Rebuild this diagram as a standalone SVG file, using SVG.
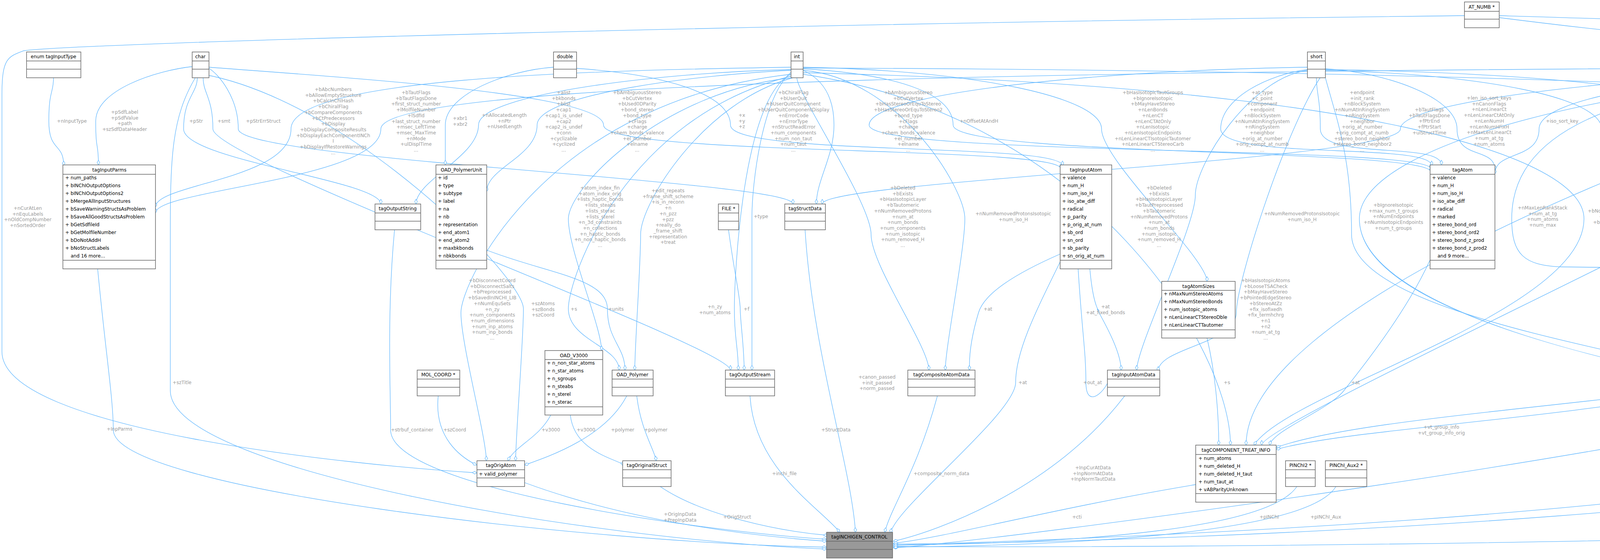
<svg xmlns="http://www.w3.org/2000/svg" width="6429" height="1433" viewBox="0 0 6429 1433">
<style>
.e{fill:none;stroke:#63b8ff;stroke-width:1.3;marker-end:url(#d)}
.l{font-family:"DejaVu Sans",sans-serif;font-size:12px;fill:#9a9a9a;text-anchor:middle}
.n rect{fill:#fff;stroke:#666;stroke-width:1.5}
.n path{fill:none;stroke:#666;stroke-width:1.5}
.h{font-family:"DejaVu Sans",sans-serif;font-size:12px;text-anchor:middle;fill:#000}
.a{font-family:"DejaVu Sans",sans-serif;font-size:12px;fill:#000}
</style>
<defs>
<marker id="d" viewBox="-1 -5 15 10" refX="13" refY="0" markerWidth="15" markerHeight="10" orient="auto" markerUnits="userSpaceOnUse"><path d="M1,0 L7,-3.5 L13,0 L7,3.5 Z" fill="#fff" stroke="#63b8ff" stroke-width="1.2"/></marker>
</defs>
<rect width="6429" height="1433" fill="#fff"/>
<g id="edges">
<path class="e" d="M137,199 C137,239 125,230 125,310 S163,364 163,424"/>
<path class="e" d="M495,170 C400,180 245,230 245,310 S252,362 252,422"/>
<path class="e" d="M505,199 C505,239 470,250 470,330 S975,462 975,522"/>
<path class="e" d="M520,199 C520,239 545,250 545,330 S1870,887 1870,947"/>
<path class="e" d="M535,175 C560,190 610,250 610,330 S2030,462 2030,522"/>
<path class="e" d="M2025,172 C1500,180 745,200 745,330 S398,470 398,530"/>
<path class="e" d="M4819,172 C3000,180 975,200 975,330 S398,485 398,545"/>
<path class="e" d="M1417,172 C1300,180 1140,240 1140,320 S1140,362 1140,422"/>
<path class="e" d="M2025,178 C1700,185 1225,240 1225,320 S1065,462 1065,522"/>
<path class="e" d="M2025,180 C1800,190 1375,240 1375,320 S1246,430 1246,490"/>
<path class="e" d="M535,172 C900,200 1545,240 1545,320 S2716,372 2716,432"/>
<path class="e" d="M1476,175 C1700,190 1870,240 1870,320 S2720,364 2720,424"/>
<path class="e" d="M2056,180 C2100,200 2135,240 2135,320 S2090,462 2090,522"/>
<path class="e" d="M3347,172 C2800,180 2225,240 2225,320 S3663,372 3663,432"/>
<path class="e" d="M2056,176 C2300,190 2440,240 2440,320 S3663,380 3663,440"/>
<path class="e" d="M2056,172 C2500,180 2820,250 2820,330 S3090,660 3090,720"/>
<path class="e" d="M3347,178 C3250,190 3125,250 3125,330 S3665,364 3665,424"/>
<path class="e" d="M3370,199 C3370,239 3380,250 3380,330 S3690,362 3690,422"/>
<path class="e" d="M4819,176 C4300,185 3585,250 3585,330 S2105,462 2105,522"/>
<path class="e" d="M3393,176 C3550,185 3730,250 3730,330 S3827,375 3827,435"/>
<path class="e" d="M4819,178 C4300,190 3940,250 3940,330 S3827,385 3827,445"/>
<path class="e" d="M3393,180 C3800,190 4100,250 4100,330 S4390,887 4390,947"/>
<path class="e" d="M4819,180 C4500,190 4360,250 4360,330 S4395,462 4395,522"/>
<path class="e" d="M3393,178 C4000,185 4530,250 4530,330 S4580,462 4580,522"/>
<path class="e" d="M4830,199 C4830,239 4730,250 4730,330 S3230,1079 3230,1139"/>
<path class="e" d="M4850,199 C4850,239 4870,250 4870,330 S5330,462 5330,522"/>
<path class="e" d="M4862,178 C4950,200 4990,250 4990,330 S5090,462 5090,522"/>
<path class="e" d="M4862,180 C5000,190 5120,250 5120,330 S4680,462 4680,522"/>
<path class="e" d="M2056,174 C4000,180 5380,250 5380,330 S5760,462 5760,522"/>
<path class="e" d="M4862,175 C5300,185 5600,250 5600,330 S5790,462 5790,522"/>
<path class="e" d="M5756,199 C5756,239 5740,250 5740,330 S5800,462 5800,522"/>
<path class="e" d="M5933,199 C5933,239 5920,250 5920,330 S5850,462 5850,522"/>
<path class="e" d="M6061,199 C6061,239 6045,250 6045,330 S5953,470 5953,530"/>
<path class="e" d="M6173,199 C6173,239 6150,250 6150,330 S5953,485 5953,545"/>
<path class="e" d="M6240,71 C6260,120 6290,170 6290,250 S5953,500 5953,560"/>
<path class="e" d="M3838,40 C4500,60 5500,90 5640,110 S5860,135 5889,150"/>
<path class="e" d="M6170,60 L5977,145"/>
<path class="e" d="M3749,40 C2000,60 200,110 60,130 C20,145 5,150 5,240 L5,900 C5,1100 900,1190 1221,1210"/>
<path class="e" d="M3838,45 C4500,130 4950,140 5010,170 C5100,210 5000,400 4890,600 S4880,900 4880,947"/>
<path class="e" d="M4998,588 C4960,760 4910,800 4915,947"/>
<path class="e" d="M5090,588 C5050,760 4965,800 4965,947"/>
<path class="e" d="M4862,190 C5100,250 5175,300 5175,450 L5165,1100 C5150,1300 3000,1390 2287,1392"/>
<path class="e" d="M5800,588 C5600,900 5200,900 5006,960"/>
<path class="e" d="M4862,182 C5300,200 5555,250 5555,450 L5555,1300 C5555,1380 3000,1405 2287,1398"/>
<path class="e" d="M5390,588 C5410,900 5300,1050 5100,1120 C4500,1330 2600,1385 2287,1395"/>
<path class="e" d="M4826,1000 C4300,1150 2600,1380 2287,1402"/>
<path class="e" d="M4457,588 L4457,947"/>
<path class="e" d="M4610,588 C4580,760 4480,800 4470,947"/>
<path class="e" d="M4862,185 C4400,200 4290,400 4290,600 S4440,887 4440,947"/>
<path class="e" d="M4374,990 C3900,1050 3450,1080 3267,1145"/>
<path class="e" d="M4374,1000 C3900,1080 3450,1100 3267,1150"/>
<path class="e" d="M3661,665 C3600,800 3480,950 3440,1000 S3260,1100 3250,1139"/>
<path class="e" d="M2714,650 C2600,700 2520,750 2505,800 S2480,900 2482,947"/>
<path class="e" d="M2790,688 C2800,800 2820,800 2810,791 S2870,887 2870,947"/>
<path class="e" d="M2040,199 C2040,239 2230,520 2230,600 S2378,887 2378,947"/>
<path class="e" d="M2056,180 C2300,200 2470,480 2470,560 S2420,887 2420,947"/>
<path class="e" d="M3347,180 C3200,200 3060,420 3060,500 S2910,887 2910,947"/>
<path class="e" d="M3090,865 C3110,950 3120,1050 3120,1139"/>
<path class="e" d="M3393,180 C3300,300 3165,720 3165,800 S2965,890 2965,950"/>
<path class="e" d="M2880,1012 C2700,1250 2400,1360 2287,1385"/>
<path class="e" d="M2400,1012 C2350,1200 2280,1300 2265,1362"/>
<path class="e" d="M2061,588 C2080,900 2180,1200 2190,1362"/>
<path class="e" d="M1865,588 C1880,700 1895,760 1895,791 S1905,887 1905,947"/>
<path class="e" d="M2025,190 C1900,250 1880,711 1880,791 S1890,887 1890,947"/>
<path class="e" d="M2025,185 C1950,250 1925,474 1925,554 S1925,887 1925,947"/>
<path class="e" d="M1920,1012 C1930,1200 2100,1300 2150,1362"/>
<path class="e" d="M1410,1062 C1380,1120 1320,1140 1300,1179"/>
<path class="e" d="M1460,1062 C1470,1150 1560,1170 1600,1190"/>
<path class="e" d="M1605,1012 C1550,1120 1400,1170 1343,1190"/>
<path class="e" d="M1630,1012 C1640,1100 1675,1150 1680,1179"/>
<path class="e" d="M1122,1012 C1110,1120 1180,1170 1220,1190"/>
<path class="e" d="M1010,588 C990,800 1000,1000 1000,1100 C1000,1250 1800,1360 2116,1380"/>
<path class="e" d="M2025,190 C1400,260 1180,720 1180,800 S1245,1119 1245,1179"/>
<path class="e" d="M520,190 C900,260 1340,710 1340,790 S1320,1119 1320,1179"/>
<path class="e" d="M2025,195 C1600,300 1455,710 1455,790 S1585,887 1585,947"/>
<path class="e" d="M1246,640 C1400,700 1555,711 1555,791 S1600,887 1600,947"/>
<path class="e" d="M2030,199 C1700,230 1455,480 1455,560 S1540,837 1540,897"/>
<path class="e" d="M2030,199 C1800,260 1640,520 1640,600 S1625,887 1625,947"/>
<path class="e" d="M250,688 C270,900 290,1020 290,1100 C290,1250 1500,1390 2116,1400"/>
<path class="e" d="M500,199 C440,300 436,400 436,600 L436,1000 C436,1200 1500,1380 2116,1405"/>
<path class="e" d="M1343,1235 C1600,1330 1900,1370 2116,1385"/>
<path class="e" d="M1690,1245 C1800,1320 2000,1360 2120,1370"/>
<path class="e" d="M3061,1240 C2700,1300 2400,1380 2287,1390"/>
<path class="e" d="M3320,1245 C3250,1350 2800,1390 2287,1395"/>
<path class="e" d="M3420,1245 C3350,1360 2800,1395 2287,1400"/>
<path class="e" d="M2056,190 C2800,300 3150,900 3150,1139"/>
<path class="e" d="M4840,199 C4200,400 3190,800 3190,1139"/>
<path class="e" d="M2714,670 C2650,800 2600,900 2600,979 S2290,1300 2280,1364"/>
<path class="e" d="M2760,688 C2770,850 2780,900 2780,979 S2845,990 2845,947"/>
<path class="e" d="M3393,199 C3420,300 3460,400 3460,600 S4200,900 4374,962"/>
<path class="e" d="M4819,185 C4200,200 3480,360 3480,560 C3480,800 4200,940 4374,975"/>
<path class="e" d="M4819,190 C4000,200 3870,400 3870,560 C3870,650 3900,680 4000,683 L4600,690 C4700,700 4800,850 4830,947"/>
<path class="e" d="M2056,186 C3500,220 4055,400 4055,560 C4055,800 3300,1000 3210,1139"/>
</g>
<g id="labels" class="l">
<text x="184" y="314">+nInputType</text>
<text x="319" y="291">+pSdfLabel<tspan x="319" dy="14.7">+pSdfValue</tspan><tspan x="319" dy="14.7">+path</tspan><tspan x="319" dy="14.7">+szSdfDataHeader</tspan></text>
<text x="502" y="314">+pStr</text>
<text x="573" y="314">+smt</text>
<text x="674" y="314">+pStrErrStruct</text>
<text x="853" y="233">+bAbcNumbers<tspan x="853" dy="14.7">+bAllowEmptyStructure</tspan><tspan x="853" dy="14.7">+bCalcInChIHash</tspan><tspan x="853" dy="14.7">+bChiralFlag</tspan><tspan x="853" dy="14.7">+bCompareComponents</tspan><tspan x="853" dy="14.7">+bCtPredecessors</tspan><tspan x="853" dy="14.7">+bDisplay</tspan><tspan x="853" dy="14.7">+bDisplayCompositeResults</tspan><tspan x="853" dy="14.7">+bDisplayEachComponentINCh</tspan><tspan x="853" dy="14.7">I</tspan><tspan x="853" dy="14.7">+bDisplayIfRestoreWarnings</tspan><tspan x="853" dy="14.7">...</tspan></text>
<text x="1065" y="241">+bTautFlags<tspan x="1065" dy="14.7">+bTautFlagsDone</tspan><tspan x="1065" dy="14.7">+first_struct_number</tspan><tspan x="1065" dy="14.7">+lMolfileNumber</tspan><tspan x="1065" dy="14.7">+lSdfId</tspan><tspan x="1065" dy="14.7">+last_struct_number</tspan><tspan x="1065" dy="14.7">+msec_LeftTime</tspan><tspan x="1065" dy="14.7">+msec_MaxTime</tspan><tspan x="1065" dy="14.7">+nMode</tspan><tspan x="1065" dy="14.7">+ulDisplTime</tspan><tspan x="1065" dy="14.7">...</tspan></text>
<text x="1178" y="307">+xbr1<tspan x="1178" dy="14.7">+xbr2</tspan></text>
<text x="1291" y="299">+nAllocatedLength<tspan x="1291" dy="14.7">+nPtr</tspan><tspan x="1291" dy="14.7">+nUsedLength</tspan></text>
<text x="1443" y="241">+alist<tspan x="1443" dy="14.7">+bkbonds</tspan><tspan x="1443" dy="14.7">+blist</tspan><tspan x="1443" dy="14.7">+cap1</tspan><tspan x="1443" dy="14.7">+cap1_is_undef</tspan><tspan x="1443" dy="14.7">+cap2</tspan><tspan x="1443" dy="14.7">+cap2_is_undef</tspan><tspan x="1443" dy="14.7">+conn</tspan><tspan x="1443" dy="14.7">+cyclizable</tspan><tspan x="1443" dy="14.7">+cyclized</tspan><tspan x="1443" dy="14.7">...</tspan></text>
<text x="1631" y="241">+bAmbiguousStereo<tspan x="1631" dy="14.7">+bCutVertex</tspan><tspan x="1631" dy="14.7">+bUsed0DParity</tspan><tspan x="1631" dy="14.7">+bond_stereo</tspan><tspan x="1631" dy="14.7">+bond_type</tspan><tspan x="1631" dy="14.7">+cFlags</tspan><tspan x="1631" dy="14.7">+charge</tspan><tspan x="1631" dy="14.7">+chem_bonds_valence</tspan><tspan x="1631" dy="14.7">+el_number</tspan><tspan x="1631" dy="14.7">+elname</tspan><tspan x="1631" dy="14.7">...</tspan></text>
<text x="1899" y="299">+x<tspan x="1899" dy="14.7">+y</tspan><tspan x="1899" dy="14.7">+z</tspan></text>
<text x="2031" y="241">+bChiralFlag<tspan x="2031" dy="14.7">+bUserQuit</tspan><tspan x="2031" dy="14.7">+bUserQuitComponent</tspan><tspan x="2031" dy="14.7">+bUserQuitComponentDisplay</tspan><tspan x="2031" dy="14.7">+nErrorCode</tspan><tspan x="2031" dy="14.7">+nErrorType</tspan><tspan x="2031" dy="14.7">+nStructReadError</tspan><tspan x="2031" dy="14.7">+num_components</tspan><tspan x="2031" dy="14.7">+num_non_taut</tspan><tspan x="2031" dy="14.7">+num_taut</tspan><tspan x="2031" dy="14.7">...</tspan></text>
<text x="2325" y="241">+bAmbiguousStereo<tspan x="2325" dy="14.7">+bCutVertex</tspan><tspan x="2325" dy="14.7">+bHasStereoOrEquToStereo</tspan><tspan x="2325" dy="14.7">+bHasStereoOrEquToStereo2</tspan><tspan x="2325" dy="14.7">+bond_type</tspan><tspan x="2325" dy="14.7">+cFlags</tspan><tspan x="2325" dy="14.7">+charge</tspan><tspan x="2325" dy="14.7">+chem_bonds_valence</tspan><tspan x="2325" dy="14.7">+el_number</tspan><tspan x="2325" dy="14.7">+elname</tspan><tspan x="2325" dy="14.7">...</tspan></text>
<text x="2506" y="314">+nOffsetAtAndH</text>
<text x="2951" y="241">+bHasIsotopicTautGroups<tspan x="2951" dy="14.7">+bIgnoreIsotopic</tspan><tspan x="2951" dy="14.7">+bMayHaveStereo</tspan><tspan x="2951" dy="14.7">+nLenBonds</tspan><tspan x="2951" dy="14.7">+nLenCT</tspan><tspan x="2951" dy="14.7">+nLenCTAtOnly</tspan><tspan x="2951" dy="14.7">+nLenIsotopic</tspan><tspan x="2951" dy="14.7">+nLenIsotopicEndpoints</tspan><tspan x="2951" dy="14.7">+nLenLinearCTIsotopicTautomer</tspan><tspan x="2951" dy="14.7">+nLenLinearCTStereoCarb</tspan><tspan x="2951" dy="14.7">...</tspan></text>
<text x="3231" y="241">+at_type<tspan x="3231" dy="14.7">+c_point</tspan><tspan x="3231" dy="14.7">+component</tspan><tspan x="3231" dy="14.7">+endpoint</tspan><tspan x="3231" dy="14.7">+nBlockSystem</tspan><tspan x="3231" dy="14.7">+nNumAtInRingSystem</tspan><tspan x="3231" dy="14.7">+nRingSystem</tspan><tspan x="3231" dy="14.7">+neighbor</tspan><tspan x="3231" dy="14.7">+orig_at_number</tspan><tspan x="3231" dy="14.7">+orig_compt_at_numb</tspan><tspan x="3231" dy="14.7">...</tspan></text>
<text x="3487" y="241">+endpoint<tspan x="3487" dy="14.7">+init_rank</tspan><tspan x="3487" dy="14.7">+nBlockSystem</tspan><tspan x="3487" dy="14.7">+nNumAtInRingSystem</tspan><tspan x="3487" dy="14.7">+nRingSystem</tspan><tspan x="3487" dy="14.7">+neighbor</tspan><tspan x="3487" dy="14.7">+orig_at_number</tspan><tspan x="3487" dy="14.7">+orig_compt_at_numb</tspan><tspan x="3487" dy="14.7">+stereo_bond_neighbor</tspan><tspan x="3487" dy="14.7">+stereo_bond_neighbor2</tspan><tspan x="3487" dy="14.7">...</tspan></text>
<text x="3659" y="285">+bTautFlags<tspan x="3659" dy="14.7">+bTautFlagsDone</tspan><tspan x="3659" dy="14.7">+fPtrEnd</tspan><tspan x="3659" dy="14.7">+fPtrStart</tspan><tspan x="3659" dy="14.7">+ulStructTime</tspan></text>
<text x="3812" y="255">+len_iso_sort_keys<tspan x="3812" dy="14.7">+nCanonFlags</tspan><tspan x="3812" dy="14.7">+nLenLinearCt</tspan><tspan x="3812" dy="14.7">+nLenLinearCtAtOnly</tspan><tspan x="3812" dy="14.7">+nLenNumH</tspan><tspan x="3812" dy="14.7">+nLenNumHFixH</tspan><tspan x="3812" dy="14.7">+nMaxLenLinearCt</tspan><tspan x="3812" dy="14.7">+num_at_tg</tspan><tspan x="3812" dy="14.7">+num_atoms</tspan></text>
<text x="3999" y="314">+iso_sort_key</text>
<text x="4215" y="299">+nNumRemovedExplicitH<tspan x="4215" dy="14.7">+nNumRemovedProtons</tspan><tspan x="4215" dy="14.7">+nNumRemovedProtonsIsotopic</tspan></text>
<text x="4434" y="314">+bNormalizationFlags</text>
<text x="4617" y="285">+nFirstEndpointAtNoPos<tspan x="4617" dy="14.7">+nGroupNumber</tspan><tspan x="4617" dy="14.7">+nNumEndpoints</tspan><tspan x="4617" dy="14.7">+num</tspan><tspan x="4617" dy="14.7">+num_DA</tspan></text>
<text x="4767" y="314">+iWeight</text>
<text x="4909" y="314">+nCanonFlags</text>
<text x="5037" y="307">+clockTime<tspan x="5037" dy="14.7">+millitime</tspan></text>
<text x="5225" y="299">+nEndpointAtomNumber<tspan x="5225" dy="14.7">+nIsotopicEndpointAtomNumber</tspan><tspan x="5225" dy="14.7">+tGroupNumber</tspan></text>
<text x="5456" y="299">+bNormalizationFlags<tspan x="5456" dy="14.7">+bTautFlags</tspan><tspan x="5456" dy="14.7">+bTautFlagsDone</tspan></text>
<text x="5676" y="307">+iso_sort_keys<tspan x="5676" dy="14.7">+iso_sort_keysOrig</tspan></text>
<text x="5831" y="307">+iso_exchg_atnos<tspan x="5831" dy="14.7">+iso_exchg_atnosOrig</tspan></text>
<text x="5978" y="307">+PartitionCt<tspan x="5978" dy="14.7">+PartitionCtIso</tspan></text>
<text x="6099" y="314">+NeighList</text>
<text x="6229" y="292">+nNumH<tspan x="6229" dy="14.7">+nNumHFixH</tspan><tspan x="6229" dy="14.7">+nNumHOrig</tspan><tspan x="6229" dy="14.7">+nNumHOrigFixH</tspan></text>
<text x="6360" y="154">+LinearCt<tspan x="6360" dy="14.7">+nSymmRankCt</tspan><tspan x="6360" dy="14.7">+nSymmRankCtIso</tspan></text>
<text x="5637" y="105">+AtNumber</text>
<text x="6105" y="105">+Rank</text>
<text x="71" y="537">+nCurAtLen<tspan x="71" dy="14.7">+nEquLabels</tspan><tspan x="71" dy="14.7">+nOldCompNumber</tspan><tspan x="71" dy="14.7">+nSortedOrder</tspan></text>
<text x="1260" y="722">+bDisconnectCoord<tspan x="1260" dy="14.7">+bDisconnectSalts</tspan><tspan x="1260" dy="14.7">+bPreprocessed</tspan><tspan x="1260" dy="14.7">+bSavedInINCHI_LIB</tspan><tspan x="1260" dy="14.7">+nNumEquSets</tspan><tspan x="1260" dy="14.7">+n_zy</tspan><tspan x="1260" dy="14.7">+num_components</tspan><tspan x="1260" dy="14.7">+num_dimensions</tspan><tspan x="1260" dy="14.7">+num_inp_atoms</tspan><tspan x="1260" dy="14.7">+num_inp_bonds</tspan><tspan x="1260" dy="14.7">...</tspan></text>
<text x="1390" y="781">+szAtoms<tspan x="1390" dy="14.7">+szBonds</tspan><tspan x="1390" dy="14.7">+szCoord</tspan></text>
<text x="1469" y="795">+s</text>
<text x="1577" y="795">+units</text>
<text x="1536" y="485">+atom_index_fin<tspan x="1536" dy="14.7">+atom_index_orig</tspan><tspan x="1536" dy="14.7">+lists_haptic_bonds</tspan><tspan x="1536" dy="14.7">+lists_steabs</tspan><tspan x="1536" dy="14.7">+lists_sterac</tspan><tspan x="1536" dy="14.7">+lists_sterel</tspan><tspan x="1536" dy="14.7">+n_3d_constraints</tspan><tspan x="1536" dy="14.7">+n_collections</tspan><tspan x="1536" dy="14.7">+n_haptic_bonds</tspan><tspan x="1536" dy="14.7">+n_non_haptic_bonds</tspan><tspan x="1536" dy="14.7">...</tspan></text>
<text x="466" y="983">+szTitle</text>
<text x="1710" y="492">+edit_repeats<tspan x="1710" dy="14.7">+frame_shift_scheme</tspan><tspan x="1710" dy="14.7">+is_in_reconn</tspan><tspan x="1710" dy="14.7">+n</tspan><tspan x="1710" dy="14.7">+n_pzz</tspan><tspan x="1710" dy="14.7">+pzz</tspan><tspan x="1710" dy="14.7">+really_do</tspan><tspan x="1710" dy="14.7">_frame_shift</tspan><tspan x="1710" dy="14.7">+representation</tspan><tspan x="1710" dy="14.7">+treat</tspan></text>
<text x="1948" y="558">+type</text>
<text x="1830" y="789">+n_zy<tspan x="1830" dy="14.7">+num_atoms</tspan></text>
<text x="1911" y="795">+f</text>
<text x="2311" y="485">+bDeleted<tspan x="2311" dy="14.7">+bExists</tspan><tspan x="2311" dy="14.7">+bHasIsotopicLayer</tspan><tspan x="2311" dy="14.7">+bTautomeric</tspan><tspan x="2311" dy="14.7">+nNumRemovedProtons</tspan><tspan x="2311" dy="14.7">+num_at</tspan><tspan x="2311" dy="14.7">+num_bonds</tspan><tspan x="2311" dy="14.7">+num_components</tspan><tspan x="2311" dy="14.7">+num_isotopic</tspan><tspan x="2311" dy="14.7">+num_removed_H</tspan><tspan x="2311" dy="14.7">...</tspan></text>
<text x="2594" y="551">+nNumRemovedProtonsIsotopic<tspan x="2594" dy="14.7">+num_iso_H</tspan></text>
<text x="2967" y="485">+bDeleted<tspan x="2967" dy="14.7">+bExists</tspan><tspan x="2967" dy="14.7">+bHasIsotopicLayer</tspan><tspan x="2967" dy="14.7">+bTautPreprocessed</tspan><tspan x="2967" dy="14.7">+bTautomeric</tspan><tspan x="2967" dy="14.7">+nNumRemovedProtons</tspan><tspan x="2967" dy="14.7">+num_at</tspan><tspan x="2967" dy="14.7">+num_bonds</tspan><tspan x="2967" dy="14.7">+num_isotopic</tspan><tspan x="2967" dy="14.7">+num_removed_H</tspan><tspan x="2967" dy="14.7">...</tspan></text>
<text x="2529" y="795">+at</text>
<text x="2830" y="789">+at<tspan x="2830" dy="14.7">+at_fixed_bonds</tspan></text>
<text x="2245" y="969">+canon_passed<tspan x="2245" dy="14.7">+init_passed</tspan><tspan x="2245" dy="14.7">+norm_passed</tspan></text>
<text x="2618" y="983">+at</text>
<text x="2797" y="983">+out_at</text>
<text x="3141" y="983">+s</text>
<text x="3240" y="722">+bHasIsotopicAtoms<tspan x="3240" dy="14.7">+bLooseTSACheck</tspan><tspan x="3240" dy="14.7">+bMayHaveStereo</tspan><tspan x="3240" dy="14.7">+bPointedEdgeStereo</tspan><tspan x="3240" dy="14.7">+bStereoAtZz</tspan><tspan x="3240" dy="14.7">+fix_isofixedh</tspan><tspan x="3240" dy="14.7">+fix_termhchrg</tspan><tspan x="3240" dy="14.7">+n1</tspan><tspan x="3240" dy="14.7">+n2</tspan><tspan x="3240" dy="14.7">+num_at_tg</tspan><tspan x="3240" dy="14.7">...</tspan></text>
<text x="3333" y="551">+nNumRemovedProtonsIsotopic<tspan x="3333" dy="14.7">+num_iso_H</tspan></text>
<text x="3567" y="529">+bIgnoreIsotopic<tspan x="3567" dy="14.7">+max_num_t_groups</tspan><tspan x="3567" dy="14.7">+nNumEndpoints</tspan><tspan x="3567" dy="14.7">+nNumIsotopicEndpoints</tspan><tspan x="3567" dy="14.7">+num_t_groups</tspan></text>
<text x="3949" y="536">+nMaxLenRankStack<tspan x="3949" dy="14.7">+num_at_tg</tspan><tspan x="3949" dy="14.7">+num_atoms</tspan><tspan x="3949" dy="14.7">+num_max</tspan></text>
<text x="4131" y="544">+bNormalizationFlags<tspan x="4131" dy="14.7">+bTautFlags</tspan><tspan x="4131" dy="14.7">+bTautFlagsDone</tspan></text>
<text x="4322" y="558">+num_iso_H</text>
<text x="4476" y="795">+tni</text>
<text x="4596" y="795">+t_group</text>
<text x="4835" y="551">+bTautFlags<tspan x="4835" dy="14.7">+bTautFlagsDone</tspan></text>
<text x="4964" y="795">+pRankStack</text>
<text x="5101" y="795">+ulTimeOutTime</text>
<text x="5231" y="774">+bTautFlags<tspan x="5231" dy="14.7">+bTautFlagsDone</tspan><tspan x="5231" dy="14.7">+nMode</tspan><tspan x="5231" dy="14.7">+nUserMode</tspan></text>
<text x="5626" y="795">+ftcn</text>
<text x="5634" y="969">+num_err<tspan x="5634" dy="14.7">+num_inp</tspan><tspan x="5634" dy="14.7">+ulTotalProcessingTime</tspan></text>
<text x="5072" y="1102">+ncFlags</text>
<text x="4379" y="1102">+Bcn</text>
<text x="3470" y="983">+at</text>
<text x="3690" y="1097">+vt_group_info<tspan x="3690" dy="14.7">+vt_group_info_orig</tspan></text>
<text x="306" y="1102">+InpParms</text>
<text x="1055" y="1104">+strbuf_container</text>
<text x="1164" y="1104">+szCoord</text>
<text x="1410" y="1104">+v3000</text>
<text x="1500" y="1104">+v3000</text>
<text x="1594" y="1104">+polymer</text>
<text x="1679" y="1104">+polymer</text>
<text x="2140" y="1104">+StructData</text>
<text x="2008" y="1216">+inchi_file</text>
<text x="2410" y="1216">+composite_norm_data</text>
<text x="1741" y="1320">+OrigInpData<tspan x="1741" dy="14.7">+PrepInpData</tspan></text>
<text x="1887" y="1327">+OrigStruct</text>
<text x="2798" y="1201">+InpCurAtData<tspan x="2798" dy="14.7">+InpNormAtData</tspan><tspan x="2798" dy="14.7">+InpNormTautData</tspan></text>
<text x="2757" y="1327">+cti</text>
<text x="3249" y="1327">+pINChI</text>
<text x="3394" y="1327">+pINChI_Aux</text>
</g>
<g id="n_enum" class="n"><rect x="68" y="133" width="139" height="66"/><path d="M68,156H207M68,177H207"/><text class="h" x="137" y="149">enum tagInputType</text></g>
<g id="n_char" class="n"><rect x="492" y="133" width="43" height="66"/><path d="M492,156H535M492,177H535"/><text class="h" x="513" y="149">char</text></g>
<g id="n_double" class="n"><rect x="1417" y="133" width="59" height="66"/><path d="M1417,156H1476M1417,177H1476"/><text class="h" x="1446" y="149">double</text></g>
<g id="n_int" class="n"><rect x="2025" y="133" width="31" height="66"/><path d="M2025,156H2056M2025,177H2056"/><text class="h" x="2040" y="149">int</text></g>
<g id="n_short" class="n"><rect x="3347" y="133" width="46" height="66"/><path d="M3347,156H3393M3347,177H3393"/><text class="h" x="3370" y="149">short</text></g>
<g id="n_atnumb" class="n"><rect x="3749" y="5" width="89" height="66"/><path d="M3749,29H3838M3749,49H3838"/><text class="h" x="3793" y="22">AT_NUMB *</text></g>
<g id="n_long" class="n"><rect x="4819" y="133" width="43" height="66"/><path d="M4819,156H4862M4819,177H4862"/><text class="h" x="4840" y="149">long</text></g>
<g id="n_schar" class="n"><rect x="5718" y="133" width="77" height="66"/><path d="M5718,156H5795M5718,177H5795"/><text class="h" x="5756" y="149">S_CHAR *</text></g>
<g id="n_partition" class="n"><rect x="5889" y="133" width="88" height="66"/><path d="M5889,156H5977M5889,177H5977"/><text class="h" x="5933" y="149">tagPartition</text></g>
<g id="n_neigh" class="n"><rect x="6011" y="133" width="100" height="66"/><path d="M6011,156H6111M6011,177H6111"/><text class="h" x="6061" y="149">NEIGH_LIST *</text></g>
<g id="n_numh" class="n"><rect x="6136" y="133" width="74" height="66"/><path d="M6136,156H6210M6136,177H6210"/><text class="h" x="6173" y="149">NUM_H *</text></g>
<g id="n_atrank" class="n"><rect x="6170" y="5" width="85" height="66"/><path d="M6170,29H6255M6170,49H6255"/><text class="h" x="6212" y="22">AT_RANK *</text></g>
<g id="n_inputparms" class="n"><rect x="161" y="422" width="237" height="266"/><path d="M161,446H398M161,666H398"/><text class="h" x="280" y="439">tagInputParms</text>
<text class="a" x="167" y="459">+ num_paths<tspan x="167" dy="20">+ bINChIOutputOptions</tspan><tspan x="167" dy="20">+ bINChIOutputOptions2</tspan><tspan x="167" dy="20">+ bMergeAllInputStructures</tspan><tspan x="167" dy="20">+ bSaveWarningStructsAsProblem</tspan><tspan x="167" dy="20">+ bSaveAllGoodStructsAsProblem</tspan><tspan x="167" dy="20">+ bGetSdfileId</tspan><tspan x="167" dy="20">+ bGetMolfileNumber</tspan><tspan x="167" dy="20">+ bDoNotAddH</tspan><tspan x="167" dy="20">+ bNoStructLabels</tspan><tspan x="181" dy="20">and 16 more...</tspan></text></g>
<g id="n_outputstring" class="n"><rect x="960" y="522" width="117" height="66"/><path d="M960,545H1077M960,566H1077"/><text class="h" x="1018" y="538">tagOutputString</text></g>
<g id="n_polymerunit" class="n"><rect x="1116" y="422" width="130" height="266"/><path d="M1116,446H1246M1116,666H1246"/><text class="h" x="1181" y="439">OAD_PolymerUnit</text>
<text class="a" x="1121" y="459">+ id<tspan x="1121" dy="20">+ type</tspan><tspan x="1121" dy="20">+ subtype</tspan><tspan x="1121" dy="20">+ label</tspan><tspan x="1121" dy="20">+ na</tspan><tspan x="1121" dy="20">+ nb</tspan><tspan x="1121" dy="20">+ representation</tspan><tspan x="1121" dy="20">+ end_atom1</tspan><tspan x="1121" dy="20">+ end_atom2</tspan><tspan x="1121" dy="20">+ maxbkbonds</tspan><tspan x="1121" dy="20">+ nbkbonds</tspan></text></g>
<g id="n_file" class="n"><rect x="1839" y="522" width="52" height="66"/><path d="M1839,545H1891M1839,566H1891"/><text class="h" x="1865" y="538">FILE *</text></g>
<g id="n_structdata" class="n"><rect x="2009" y="522" width="104" height="66"/><path d="M2009,545H2113M2009,566H2113"/><text class="h" x="2061" y="538">tagStructData</text></g>
<g id="n_inputatom" class="n"><rect x="2714" y="422" width="132" height="266"/><path d="M2714,446H2846M2714,666H2846"/><text class="h" x="2780" y="439">tagInputAtom</text>
<text class="a" x="2719" y="459">+ valence<tspan x="2719" dy="20">+ num_H</tspan><tspan x="2719" dy="20">+ num_iso_H</tspan><tspan x="2719" dy="20">+ iso_atw_diff</tspan><tspan x="2719" dy="20">+ radical</tspan><tspan x="2719" dy="20">+ p_parity</tspan><tspan x="2719" dy="20">+ p_orig_at_num</tspan><tspan x="2719" dy="20">+ sb_ord</tspan><tspan x="2719" dy="20">+ sn_ord</tspan><tspan x="2719" dy="20">+ sb_parity</tspan><tspan x="2719" dy="20">+ sn_orig_at_num</tspan></text></g>
<g id="n_atomsizes" class="n"><rect x="2974" y="720" width="188" height="145"/><path d="M2974,743H3162M2974,844H3162"/><text class="h" x="3068" y="737">tagAtomSizes</text>
<text class="a" x="2979" y="756">+ nMaxNumStereoAtoms<tspan x="2979" dy="20">+ nMaxNumStereoBonds</tspan><tspan x="2979" dy="20">+ num_isotopic_atoms</tspan><tspan x="2979" dy="20">+ nLenLinearCTStereoDble</tspan><tspan x="2979" dy="20">+ nLenLinearCTTautomer</tspan></text></g>
<g id="n_atom" class="n"><rect x="3661" y="422" width="166" height="266"/><path d="M3661,446H3827M3661,666H3827"/><text class="h" x="3744" y="439">tagAtom</text>
<text class="a" x="3666" y="459">+ valence<tspan x="3666" dy="20">+ num_H</tspan><tspan x="3666" dy="20">+ num_iso_H</tspan><tspan x="3666" dy="20">+ iso_atw_diff</tspan><tspan x="3666" dy="20">+ radical</tspan><tspan x="3666" dy="20">+ marked</tspan><tspan x="3666" dy="20">+ stereo_bond_ord</tspan><tspan x="3666" dy="20">+ stereo_bond_ord2</tspan><tspan x="3666" dy="20">+ stereo_bond_z_prod</tspan><tspan x="3666" dy="20">+ stereo_bond_z_prod2</tspan><tspan x="3680" dy="20">and 9 more...</tspan></text></g>
<g id="n_tautnorminfo" class="n"><rect x="4379" y="522" width="157" height="66"/><path d="M4379,545H4536M4379,566H4536"/><text class="h" x="4457" y="538">tagTautomerNormInfo</text></g>
<g id="n_tautgroup" class="n"><rect x="4561" y="522" width="134" height="66"/><path d="M4561,545H4695M4561,566H4695"/><text class="h" x="4628" y="538">tagTautomerGroup</text></g>
<g id="n_atrank2" class="n"><rect x="4935" y="522" width="91" height="66"/><path d="M4935,545H5026M4935,566H5026"/><text class="h" x="4980" y="538">AT_RANK **</text></g>
<g id="n_inchitime" class="n"><rect x="5052" y="522" width="99" height="66"/><path d="M5052,545H5151M5052,566H5151"/><text class="h" x="5101" y="538">tagInchiTime</text></g>
<g id="n_normcanonflags" class="n"><rect x="5311" y="522" width="146" height="66"/><path d="M5311,545H5457M5311,566H5457"/><text class="h" x="5384" y="538">tagNormCanonFlags</text></g>
<g id="n_fixh" class="n"><rect x="5735" y="522" width="218" height="66"/><path d="M5735,545H5953M5735,566H5953"/><text class="h" x="5844" y="538">tagFixHOrTautCanonNumbering</text></g>
<g id="n_molcoord" class="n"><rect x="1068" y="947" width="109" height="66"/><path d="M1068,970H1177M1068,991H1177"/><text class="h" x="1122" y="963">MOL_COORD *</text></g>
<g id="n_v3000" class="n"><rect x="1395" y="897" width="148" height="165"/><path d="M1395,920H1543M1395,1041H1543"/><text class="h" x="1469" y="914">OAD_V3000</text>
<text class="a" x="1400" y="933">+ n_non_star_atoms<tspan x="1400" dy="20">+ n_star_atoms</tspan><tspan x="1400" dy="20">+ n_sgroups</tspan><tspan x="1400" dy="20">+ n_steabs</tspan><tspan x="1400" dy="20">+ n_sterel</tspan><tspan x="1400" dy="20">+ n_sterac</tspan></text></g>
<g id="n_polymer" class="n"><rect x="1567" y="947" width="105" height="66"/><path d="M1567,970H1672M1567,991H1672"/><text class="h" x="1619" y="963">OAD_Polymer</text></g>
<g id="n_outputstream" class="n"><rect x="1857" y="947" width="126" height="66"/><path d="M1857,970H1983M1857,991H1983"/><text class="h" x="1920" y="963">tagOutputStream</text></g>
<g id="n_compositeatomdata" class="n"><rect x="2324" y="947" width="172" height="66"/><path d="M2324,970H2496M2324,991H2496"/><text class="h" x="2410" y="963">tagCompositeAtomData</text></g>
<g id="n_inputatomdata" class="n"><rect x="2835" y="947" width="134" height="66"/><path d="M2835,970H2969M2835,991H2969"/><text class="h" x="2902" y="963">tagInputAtomData</text></g>
<g id="n_tautgroupsinfo" class="n"><rect x="4374" y="947" width="166" height="66"/><path d="M4374,970H4540M4374,991H4540"/><text class="h" x="4457" y="963">tagTautomerGroupsInfo</text></g>
<g id="n_basecanon" class="n"><rect x="4826" y="947" width="180" height="66"/><path d="M4826,970H5006M4826,991H5006"/><text class="h" x="4916" y="963">tagBaseCanonNumbering</text></g>
<g id="n_origatom" class="n"><rect x="1221" y="1179" width="122" height="66"/><path d="M1221,1202H1343M1221,1223H1343"/><text class="h" x="1282" y="1195">tagOrigAtom</text><text class="a" x="1226" y="1217">+ valid_polymer</text></g>
<g id="n_originalstruct" class="n"><rect x="1594" y="1179" width="124" height="66"/><path d="M1594,1202H1718M1594,1223H1718"/><text class="h" x="1656" y="1195">tagOriginalStruct</text></g>
<g id="n_inchigen" class="n"><rect x="2116" y="1362" width="169" height="66" style="fill:#999"/><path d="M2116,1385H2285M2116,1406H2285"/><text class="h" x="2200" y="1378">tagINCHIGEN_CONTROL</text></g>
<g id="n_cti" class="n"><rect x="3061" y="1139" width="206" height="146"/><path d="M3061,1163H3267M3061,1263H3267"/><text class="h" x="3164" y="1156">tagCOMPONENT_TREAT_INFO</text>
<text class="a" x="3068" y="1177">+   num_atoms<tspan x="3068" dy="20">+   num_deleted_H</tspan><tspan x="3068" dy="20">+   num_deleted_H_taut</tspan><tspan x="3068" dy="20">+   num_taut_at</tspan><tspan x="3068" dy="20">+   vABParityUnknown</tspan></text></g>
<g id="n_pinchi2" class="n"><rect x="3291" y="1179" width="76" height="66"/><path d="M3291,1202H3367M3291,1223H3367"/><text class="h" x="3329" y="1195">PINChI2 *</text></g>
<g id="n_pinchiaux2" class="n"><rect x="3393" y="1179" width="106" height="66"/><path d="M3393,1202H3499M3393,1223H3499"/><text class="h" x="3446" y="1195">PINChI_Aux2 *</text></g>
</svg>
